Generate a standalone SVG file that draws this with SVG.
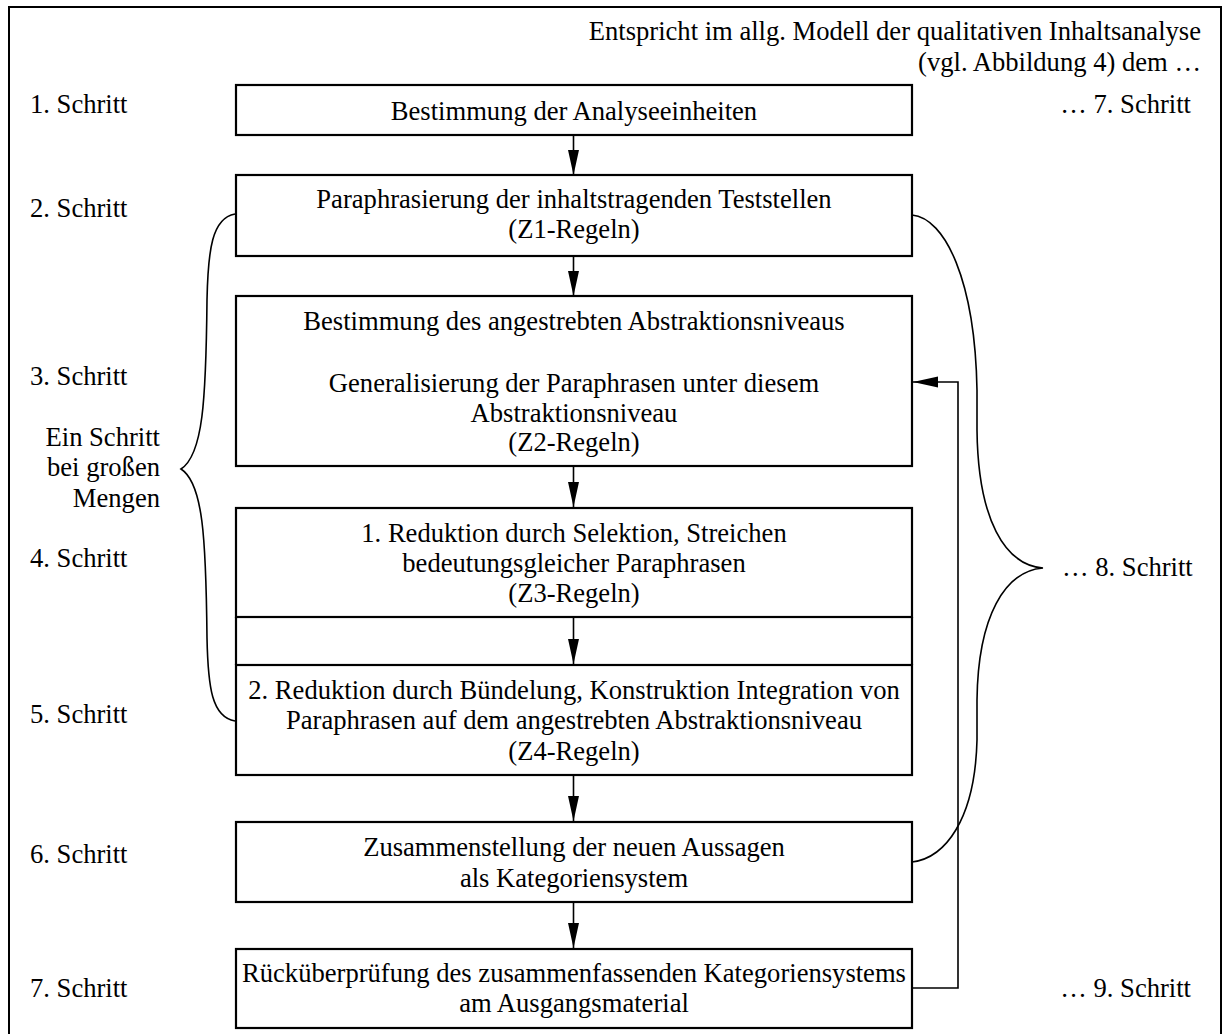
<svg xmlns="http://www.w3.org/2000/svg" width="1223" height="1034" viewBox="0 0 1223 1034">
<defs>
<style>
text{font-family:"Liberation Serif","Times New Roman",serif;font-size:26.6px;fill:#000}
.c{text-anchor:middle}
.r{text-anchor:end}
.box{fill:#fff;stroke:#000;stroke-width:2.2}
.ln{fill:none;stroke:#000;stroke-width:1.6}
</style>
<marker id="ah" markerUnits="userSpaceOnUse" markerWidth="26" markerHeight="12" refX="25" refY="6" orient="auto">
<path d="M0,0.5 L25,6 L0,11.5 z" fill="#000"/>
</marker>
</defs>
<rect width="1223" height="1034" fill="#fff"/>
<rect x="9" y="7" width="1212" height="1040" fill="none" stroke="#000" stroke-width="2"/>

<g id="header">
<text class="r" x="1201" y="40">Entspricht im allg. Modell der qualitativen Inhaltsanalyse</text>
<text class="r" x="1201" y="71">(vgl. Abbildung 4) dem …</text>
</g>

<g id="step-labels">
<text x="30" y="113">1. Schritt</text>
<text x="30" y="217">2. Schritt</text>
<text x="30" y="385">3. Schritt</text>
<text x="30" y="567">4. Schritt</text>
<text x="30" y="723">5. Schritt</text>
<text x="30" y="863">6. Schritt</text>
<text x="30" y="997">7. Schritt</text>
<text class="r" x="160" y="446">Ein Schritt</text>
<text class="r" x="160" y="476">bei großen</text>
<text class="r" x="160" y="507">Mengen</text>
<text class="r" x="1191" y="113">… 7. Schritt</text>
<text x="1062" y="576">… 8. Schritt</text>
<text class="r" x="1191" y="997">… 9. Schritt</text>
</g>

<g id="connectors">
<line class="ln" x1="573.5" y1="135" x2="573.5" y2="175" marker-end="url(#ah)"/>
<line class="ln" x1="573.5" y1="256" x2="573.5" y2="296" marker-end="url(#ah)"/>
<line class="ln" x1="573.5" y1="466" x2="573.5" y2="507" marker-end="url(#ah)"/>
<line class="ln" x1="573.5" y1="617" x2="573.5" y2="664" marker-end="url(#ah)"/>
<line class="ln" x1="573.5" y1="775" x2="573.5" y2="821" marker-end="url(#ah)"/>
<line class="ln" x1="573.5" y1="902" x2="573.5" y2="948" marker-end="url(#ah)"/>
<path class="ln" d="M912,988 H958 V382 H913" marker-end="url(#ah)"/>
<path class="ln" d="M235,214 C212,218 208,250 207,300 C206,400 203,455 181,469 C203,483 206,538 207,638 C208,688 212,717 235,721"/>
<path class="ln" d="M912,215 C945,218 975,280 977,390 L977,430 C978,520 1005,565 1043,568 C1005,571 978,616 977,700 L977,740 C975,820 945,858 912,862"/>
</g>

<g id="node1">
<rect class="box" x="236" y="85" width="676" height="50"/>
<text class="c" x="574" y="120">Bestimmung der Analyseeinheiten</text>
</g>
<g id="node2">
<rect class="box" x="236" y="175" width="676" height="81"/>
<text class="c" x="574" y="208">Paraphrasierung der inhaltstragenden Teststellen</text>
<text class="c" x="574" y="238">(Z1-Regeln)</text>
</g>
<g id="node3">
<rect class="box" x="236" y="296" width="676" height="170"/>
<text class="c" x="574" y="330">Bestimmung des angestrebten Abstraktionsniveaus</text>
<text class="c" x="574" y="392">Generalisierung der Paraphrasen unter diesem</text>
<text class="c" x="574" y="422">Abstraktionsniveau</text>
<text class="c" x="574" y="451">(Z2-Regeln)</text>
</g>
<g id="node45-frame">
<line x1="236" y1="617" x2="236" y2="665" stroke="#000" stroke-width="2.2"/>
<line x1="912" y1="617" x2="912" y2="665" stroke="#000" stroke-width="2.2"/>
</g>
<g id="node4">
<rect class="box" x="236" y="508" width="676" height="109"/>
<text class="c" x="574" y="542">1. Reduktion durch Selektion, Streichen</text>
<text class="c" x="574" y="572">bedeutungsgleicher Paraphrasen</text>
<text class="c" x="574" y="602">(Z3-Regeln)</text>
</g>
<g id="node5">
<rect class="box" x="236" y="665" width="676" height="110"/>
<text class="c" x="574" y="699">2. Reduktion durch Bündelung, Konstruktion Integration von</text>
<text class="c" x="574" y="729">Paraphrasen auf dem angestrebten Abstraktionsniveau</text>
<text class="c" x="574" y="760">(Z4-Regeln)</text>
</g>
<g id="node6">
<rect class="box" x="236" y="822" width="676" height="80"/>
<text class="c" x="574" y="856">Zusammenstellung der neuen Aussagen</text>
<text class="c" x="574" y="887">als Kategoriensystem</text>
</g>
<g id="node7">
<rect class="box" x="236" y="949" width="676" height="79"/>
<text class="c" x="574" y="982">Rücküberprüfung des zusammenfassenden Kategoriensystems</text>
<text class="c" x="574" y="1012">am Ausgangsmaterial</text>
</g>
</svg>
